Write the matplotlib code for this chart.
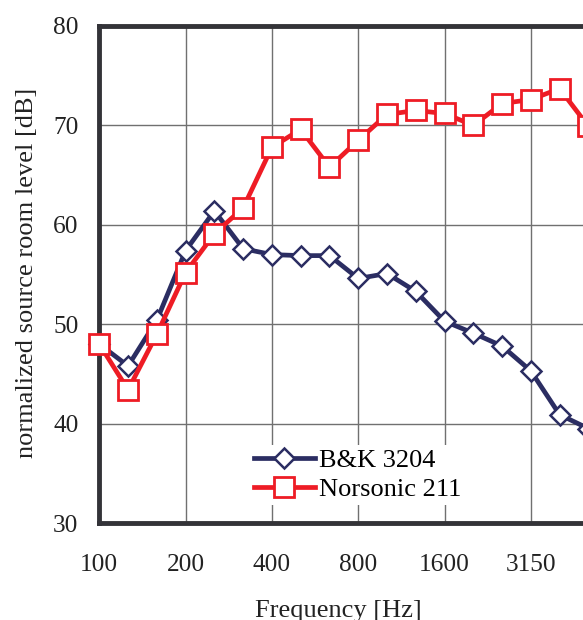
import numpy as np
from matplotlib import pyplot as plt

# third-octave bands, 100 Hz .. 5000 Hz (visible part)
bands = ['100', '125', '160', '200', '250', '315', '400', '500', '630', '800',
         '1000', '1250', '1600', '2000', '2500', '3150', '4000', '5000']
bk_3204 = [48.0, 45.8, 50.4, 57.4, 61.4, 57.6, 57.0, 56.9, 56.9, 54.6,
           55.1, 53.3, 50.3, 49.1, 47.8, 45.3, 40.9, 39.5]
norsonic_211 = [48.0, 43.4, 49.0, 55.2, 59.1, 61.7, 67.8, 69.6, 65.8, 68.5,
                71.1, 71.5, 71.2, 70.0, 72.2, 72.6, 73.7, 69.9]
tick_labels = ['100', '200', '400', '800', '1600', '3150']

plt.rcParams['font.family'] = ['Liberation Serif', 'DejaVu Serif']

fig = plt.figure(figsize=(5.83, 6.2), dpi=100)
ax = fig.add_axes([99.3 / 583, 97 / 620, 575.4 / 583, 497 / 620])

x = np.arange(len(bands))
ax.plot(x, bk_3204, color='#2b2d62', lw=3.4, marker='D', ms=10.5,
        mfc='white', mec='#2b2d62', mew=1.8, label='B&K 3204',
        clip_on=False, zorder=4)
ax.plot(x, norsonic_211, color='#ee1c25', lw=3.4, marker='s', ms=15,
        mfc='white', mec='#ee1c25', mew=2.0, label='Norsonic 211',
        clip_on=False, zorder=5)

ax.set_xlim(0, 20)
ax.set_ylim(30, 80)
ax.set_yticks(np.arange(30, 81, 10))
ax.set_xticks([bands.index(t) for t in tick_labels])
ax.set_xticklabels(tick_labels)
ax.tick_params(axis='both', length=0, labelsize=18.3, colors='#222222')
ax.tick_params(axis='x', pad=22)
ax.tick_params(axis='y', pad=15)

ax.grid(True, color='#707070', lw=1.0)
ax.set_axisbelow(True)
for side in ['left', 'bottom', 'top']:
    ax.spines[side].set_linewidth(3.5)
    ax.spines[side].set_color('#333338')
ax.spines['right'].set_visible(False)

leg = ax.legend(loc='upper left', bbox_to_anchor=(250 / 583, 1 - 445 / 620),
                bbox_transform=fig.transFigure, frameon=True, fontsize=19,
                handlelength=2.3, handletextpad=0.15, labelspacing=0.2,
                borderpad=0.15, borderaxespad=0)
leg.get_frame().set_edgecolor('none')
leg.get_frame().set_facecolor('white')
leg.get_frame().set_alpha(1)
leg.set_zorder(6)

fig.text(338 / 583, 1 - 611 / 620, 'Frequency [Hz]', ha='center', va='center',
         fontsize=19, color='#222222')
fig.text(27 / 583, 1 - 273 / 620, 'normalized source room level [dB]',
         rotation=90, ha='center', va='center', fontsize=19, color='#222222')

fig.savefig('out.png', dpi=100)
